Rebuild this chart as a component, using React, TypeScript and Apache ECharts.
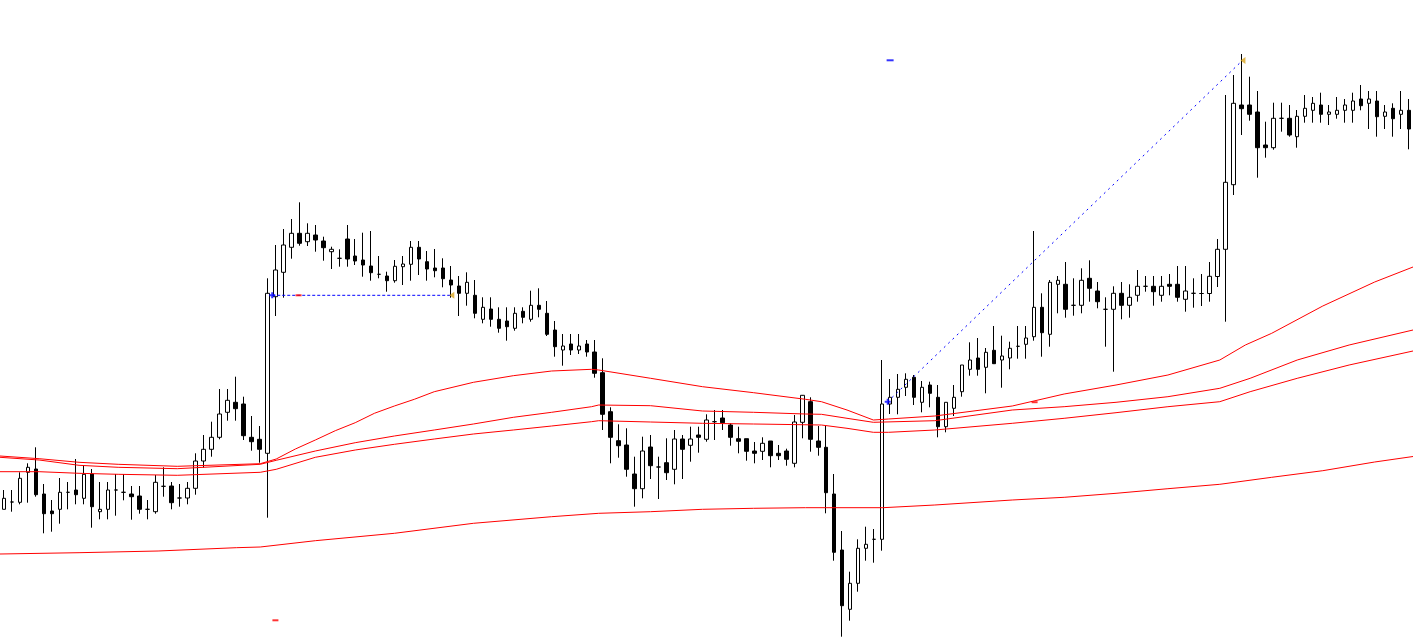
import React, { useEffect, useRef } from "react";
import * as echarts from "echarts";

// Candle values (arbitrary price levels)
const opens = [
  127.7, 135, 134.7, 164.7, 168, 143, 126, 127.7, 144.7, 147,
  138.7, 163, 125.3, 127.7, 147, 144.7, 143, 141, 127.7, 125.3,
  150.7, 151, 139, 139, 148.7, 176, 187.7, 199.7, 224.7, 234.7,
  233, 199.7, 197.7, 183.7, 340.3, 364.7, 389.7, 403.7, 395.3, 402,
  396, 385.3, 378.7, 398, 381, 377, 371, 362.7, 361, 356.3,
  370.3, 372.7, 389.7, 375.3, 369, 369, 357, 351, 343.7, 341.7,
  317.7, 328, 317.7, 316, 308.7, 325.7, 317.7, 331.7, 323.7, 307,
  287, 293, 287, 293, 285, 264.3, 225.3, 196.3, 192, 163,
  148.3, 190, 170, 174.3, 167.7, 198, 191.7, 202, 197.7, 215.3,
  219, 212, 198.3, 198.3, 186, 185.7, 196, 183.7, 186, 173.7,
  214.7, 235.3, 196, 189.7, 143, 87, 27.7, 53.7, 88.7, 97.7,
  97.7, 233, 239.7, 249.7, 259.7, 234.7, 252, 239.7, 210.3, 228.7,
  245.3, 267.7, 279, 269.7, 286.7, 277, 279, 290.7, 292.7, 300.3,
  329.7, 302.7, 352.7, 352.7, 331.7, 331.7, 358.7, 346, 327.7, 327.7,
  343.7, 331.7, 341.7, 350.7, 350.7, 341.7, 352.7, 352.7, 337.7, 343.7,
  343.5, 343.5, 360.5, 387.7, 452.3, 532, 532, 525, 492, 489.3,
  518.7, 518.7, 500.3, 520.7, 526.7, 532, 522.7, 522.7, 526.7, 526.7,
  538, 533.7, 536, 520.7, 528.7, 522.7, 526.7,
];

const closes = [
  138.7, 135, 158.7, 169.7, 142.3, 123.3, 123.3, 144.7, 144.7, 142.3,
  162.7, 130.3, 127.7, 147, 147, 144.7, 140.3, 127.7, 127.7, 154.7,
  150.7, 134.3, 139, 148.7, 176, 187.7, 199.7, 223, 236.7, 228.3,
  201.3, 195.3, 187.7, 343.7, 367, 392, 403.7, 393.7, 403.7, 397,
  389.3, 387.7, 378.7, 378, 376, 372, 364.3, 362.7, 356.3, 370.7,
  373, 389.7, 378, 368, 366.3, 358.3, 352, 343.7, 354.7, 323.7,
  329.7, 317.7, 308.7, 310.3, 323.7, 319.7, 331.7, 327.7, 302.7, 290.3,
  291, 287, 291, 285, 263.7, 222.7, 199.7, 191.3, 167.7, 148.3,
  186, 171.3, 170, 164.3, 198, 187.7, 198, 199.7, 217, 215.3,
  214.3, 199.7, 195.7, 185.7, 183.7, 193.7, 181.3, 181.3, 177.7, 215,
  241.7, 197.7, 189.7, 144.3, 84.7, 31.3, 53.7, 88.7, 92.7, 97.7,
  233, 239.7, 247.7, 257.7, 239.7, 249.7, 243.7, 210.3, 234.7, 239.7,
  272, 277, 267.7, 284.7, 273.3, 281, 288.7, 290.7, 299, 329.7,
  304.3, 354.7, 356.7, 327.7, 331.7, 356.7, 348.7, 335.3, 327.7, 343.7,
  331.7, 339.7, 350.7, 350.7, 345.3, 350.7, 350.7, 339.7, 346, 343.7,
  343.5, 360.7, 387.7, 454.7, 533.7, 528.3, 522.7, 489.3, 489.3, 518.7,
  518.7, 502, 520.7, 528.7, 533.7, 522.7, 525, 526.7, 532, 536,
  531.3, 538, 520.3, 525, 518.3, 526.7, 508,
];

const lows = [
  127.7, 125.3, 132.7, 134.3, 140.3, 103.7, 105.3, 113.3, 127.7, 132.7,
  132.7, 109.3, 117.7, 117.7, 121.3, 136.7, 117.3, 123.3, 117.7, 123.3,
  140.3, 127.7, 130.3, 132.7, 142.3, 169.3, 180.3, 197.7, 216.3, 216.3,
  197, 186.3, 174.3, 119.3, 321, 339.3, 378.3, 391.3, 391, 385.3,
  376.3, 368, 370.3, 370.3, 372, 360.3, 356.3, 358.7, 345.3, 354.3,
  352, 356.3, 362, 356.3, 359.7, 349.7, 339.3, 321, 331.3, 318.7,
  313.7, 310.3, 304.3, 296.3, 306.3, 313.7, 315.3, 319.7, 301, 280.3,
  271.3, 282, 283, 280.3, 259.3, 207, 173.7, 179.3, 160.3, 130.3,
  138.7, 158, 138, 157, 152.7, 158, 175.3, 184.3, 195.3, 197,
  207, 191.3, 183.7, 176.3, 173.7, 177, 169.7, 177, 171.3, 169.7,
  198.7, 185.3, 181.3, 123.7, 76.3, 0.3, 16.3, 45.3, 76.3, 74.3,
  86.3, 223, 222.7, 241, 232, 224.7, 229.7, 199.7, 204.7, 221,
  240.3, 261.3, 261.3, 243.7, 273, 249.3, 267.7, 278.3, 278.3, 296.3,
  280.3, 290.3, 323.7, 319.3, 321.3, 323.7, 335.3, 328.7, 290.3, 265.3,
  317.7, 319.3, 335.3, 345.3, 331.3, 335.3, 341.7, 335.3, 325.3, 329.3,
  331, 335.3, 350, 315.3, 442, 502, 516.3, 459.3, 479.3, 487.3,
  505.3, 500.3, 489.3, 514.3, 514.3, 514.3, 512, 518.3, 514.3, 514.3,
  526.7, 508, 500.3, 508, 500.3, 508, 487.7,
];

const highs = [
  147, 147, 164.7, 173.7, 189.7, 153, 137, 159, 155, 178,
  172, 168, 155, 155, 163, 163, 151, 151, 137, 162,
  169.7, 155, 153, 155, 183.7, 202, 215.3, 248, 248, 260.3,
  240.3, 221, 211, 358.7, 392, 408, 418, 434.7, 413.7, 412,
  400.3, 390.3, 387.7, 412, 398, 404.3, 406, 381, 365.3, 377,
  381, 396, 396, 386, 388, 378.7, 371, 361, 364.7, 357,
  339.7, 339.7, 329.7, 329.7, 329.7, 329.7, 346.3, 348.7, 336, 316,
  303, 303, 303, 297, 297, 278.7, 229.7, 212.7, 208.7, 180.3,
  200.3, 202, 180.3, 198.7, 207, 202, 210.3, 210.3, 222.7, 227,
  227, 213.7, 210.3, 198.3, 195, 199.7, 196, 192, 188.3, 222,
  242, 239.7, 211, 211, 163, 106, 65.3, 97.7, 110.3, 108,
  277, 258, 263, 263.7, 262, 256, 255.3, 252, 234.7, 252,
  272, 294.7, 299, 289, 311, 301.3, 295.3, 311, 311, 406,
  343.7, 357, 361, 375, 358.7, 368.7, 376.7, 355, 339.7, 350.7,
  355, 352.7, 367, 361, 361, 361, 363, 371, 371, 358.7,
  363, 375, 398, 542, 562, 583, 560.3, 546, 515.3, 534.3,
  534.3, 532, 527, 542, 540, 544.3, 532, 540, 538, 544.3,
  552, 546, 546, 532, 533.7, 546, 538,
];

const barLabels = opens.map((_, i) => String(i + 1));

// Moving-average lines: [bar position, level]
const maFast: [number, number][] = [
  [-0.5, 181], [4.4, 178.3], [9.4, 174.7], [14.3, 172.7], [21.7, 170.7], [32.1, 173.3],
  [34.1, 178], [36.5, 188], [39, 197], [41.5, 206.3], [44, 214.3], [46.4, 223.7],
  [48.9, 231], [51.4, 237.7], [53.9, 245.3], [58.8, 254.7], [63.8, 261.3], [68.6, 266],
  [73.6, 267.7], [74.5, 267], [81, 258.7], [87.5, 250.3], [93.9, 244.3], [100.4, 237.7],
  [102.4, 235.3], [105.6, 227], [108.9, 217], [110.8, 218], [116.6, 221], [126.3, 231],
  [132.8, 243], [139.3, 252], [145.8, 262], [152.3, 277], [155.5, 292], [158.8, 303.7],
  [165.2, 331], [171.7, 355], [176.5, 370],
];

const maMid: [number, number][] = [
  [-0.5, 179.7], [4.4, 177], [9.4, 171.7], [14.3, 169.7], [21.7, 168.3], [32.1, 172.7],
  [34.1, 176.7], [39, 186], [44, 194.3], [48.9, 201], [53.9, 207], [58.8, 213],
  [63.8, 219.7], [68.6, 224.7], [73.6, 230.3], [74.5, 232], [81, 231.3], [87.5, 226],
  [93.9, 224.7], [100.4, 223], [102.4, 222.7], [105.6, 218.7], [108.9, 214.7], [116.6, 216.3],
  [126.3, 227], [132.8, 230.3], [139.3, 234.7], [145.8, 240.3], [152.3, 248.7], [156.1, 258.7],
  [162, 277], [168.5, 292], [176.5, 307],
];

const maSlow: [number, number][] = [
  [-0.5, 165.3], [4.4, 165.3], [9.4, 163.7], [14.3, 162.7], [21.7, 161.7], [32.1, 164.7],
  [34.1, 167.7], [39, 179.7], [44, 187], [48.9, 192.7], [53.9, 198], [58.8, 203],
  [63.8, 207], [68.6, 211], [73.6, 215.3], [74.5, 216.3], [81, 215], [87.5, 213.7],
  [93.9, 213], [102.4, 212], [105.6, 208.7], [108.9, 204.7], [110.8, 204.7], [116.6, 207],
  [126.3, 213.7], [132.8, 218.7], [139.3, 224.3], [145.8, 230.3], [152.3, 235.3], [156.1, 245.3],
  [162, 258.7], [168.5, 272], [176.5, 286],
];

const maLong: [number, number][] = [
  [-0.5, 83], [9.4, 84.3], [19.3, 86], [29.1, 89.3], [32.1, 90], [39, 96.3],
  [48.9, 103.7], [58.8, 113.7], [68.6, 120.3], [74.5, 123.7], [81, 125.3], [87.5, 127.7],
  [93.9, 128.7], [100.4, 129.3], [110.1, 129.3], [116.6, 132], [126.3, 137], [132.8, 139.7],
  [139.3, 143.7], [145.8, 148.3], [152.3, 152.7], [158.8, 159.7], [165.2, 166.3], [171.7, 175],
  [176.5, 180.5],
];

// Drawn objects
const levelLine: [number, number][] = [[33.6, 341.7], [56.1, 341.7]];
const trendLine: [number, number][] = [[110.7, 235.3], [155.1, 576.3]];
const startMarks: [number, number][] = [[33.6, 341.7], [110.7, 235.3]];
const endMarks: [number, number][] = [[56.1, 341.7], [155.2, 576.5]];
const blueTicks: [number, number][] = [[111.0, 576.7]];
const redTicks: [number, number][] = [[34.0, 16.7], [36.9, 341.7], [129.1, 234.8]];

const RED = "#ff0000";

export default function App() {
  const ref = useRef<HTMLDivElement>(null);

  useEffect(() => {
    document.body.style.margin = "0";
    const chart = echarts.init(ref.current as HTMLDivElement, undefined, { renderer: "svg" });
    const candleData = opens.map((o, i) => [o, closes[i], lows[i], highs[i]]);
    const maLine = (name: string, data: [number, number][]) => ({
      name,
      type: "line",
      xAxisIndex: 1,
      yAxisIndex: 0,
      data,
      symbol: "none",
      showSymbol: false,
      silent: true,
      z: 4,
      lineStyle: { color: RED, width: 1 },
    });
    chart.setOption({
      animation: false,
      backgroundColor: "#ffffff",
      grid: { left: 0, top: 0, width: 1416, height: 637, containLabel: false },
      xAxis: [
        {
          type: "category",
          data: barLabels,
          boundaryGap: true,
          show: false,
        },
        {
          type: "value",
          min: -0.5,
          max: 176.5,
          show: false,
        },
      ],
      yAxis: {
        type: "value",
        min: 0,
        max: 637,
        show: false,
        splitLine: { show: false },
      },
      series: [
        {
          name: "Price",
          type: "candlestick",
          xAxisIndex: 0,
          yAxisIndex: 0,
          data: candleData,
          barWidth: 4,
          silent: true,
          z: 2,
          itemStyle: {
            color: "#ffffff",
            color0: "#000000",
            borderColor: "#000000",
            borderColor0: "#000000",
            borderWidth: 1,
          },
        },
        maLine("MA fast", maFast),
        maLine("MA mid", maMid),
        maLine("MA slow", maSlow),
        maLine("MA long", maLong),
        {
          name: "Level",
          type: "line",
          xAxisIndex: 1,
          data: levelLine,
          symbol: "none",
          silent: true,
          z: 5,
          lineStyle: { color: "#0000ff", width: 1, type: [3, 2] },
        },
        {
          name: "Trend",
          type: "line",
          xAxisIndex: 1,
          data: trendLine,
          symbol: "none",
          silent: true,
          z: 5,
          lineStyle: { color: "#0000ff", width: 1, type: [2, 4] },
        },
        {
          name: "Start",
          type: "scatter",
          xAxisIndex: 1,
          data: startMarks,
          symbol: "path://M2,0 H4 V2 H6 V4 H4 V6 H2 V4 H0 V2 H2 Z",
          symbolSize: 6,
          silent: true,
          z: 6,
          itemStyle: { color: "#0000ff" },
        },
        {
          name: "End",
          type: "scatter",
          xAxisIndex: 1,
          data: endMarks,
          symbol: "triangle",
          symbolSize: [7, 5],
          symbolRotate: 90,
          silent: true,
          z: 6,
          itemStyle: { color: "#daa520" },
        },
        {
          name: "Blue tick",
          type: "scatter",
          xAxisIndex: 1,
          data: blueTicks,
          symbol: "rect",
          symbolSize: [7, 2],
          silent: true,
          z: 6,
          itemStyle: { color: "#0000ff" },
        },
        {
          name: "Red tick",
          type: "scatter",
          xAxisIndex: 1,
          data: redTicks,
          symbol: "rect",
          symbolSize: [6, 2],
          silent: true,
          z: 6,
          itemStyle: { color: RED },
        },
      ],
    });
    return () => chart.dispose();
  }, []);

  return <div ref={ref} style={{ width: 1413, height: 637, background: "#ffffff" }} />;
}
